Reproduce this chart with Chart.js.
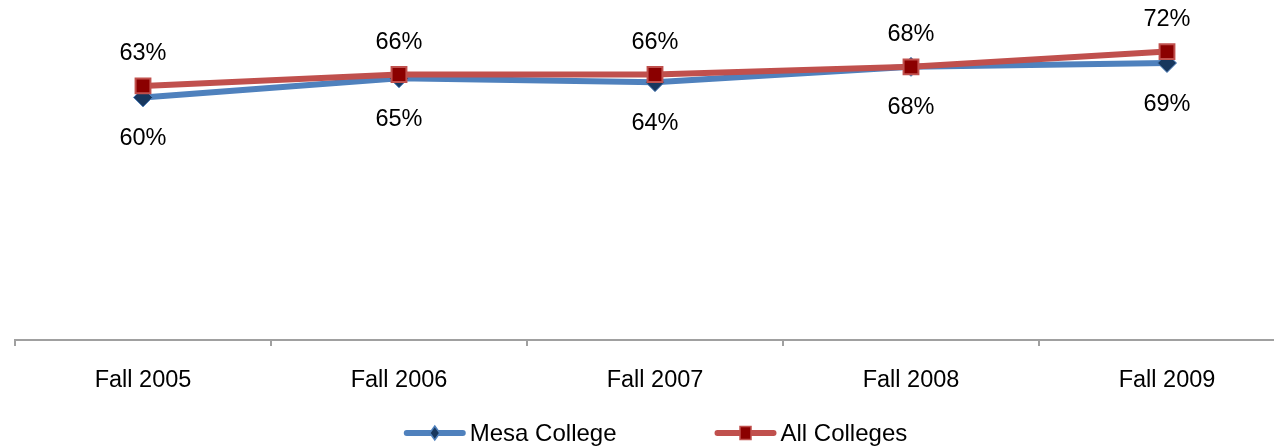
<!DOCTYPE html>
<html>
<head>
<meta charset="utf-8">
<script src="https://cdn.jsdelivr.net/npm/chart.js@4.4.0/dist/chart.umd.min.js"></script>
<style>
  html, body { margin: 0; padding: 0; background: #fff; overflow: hidden; }
  #wrap { width: 1310px; height: 446px; }
</style>
</head>
<body>
<div id="wrap"><canvas id="chart-line" width="1310" height="446"></canvas></div>
<script>
// data
var labels = ["Fall 2005", "Fall 2006", "Fall 2007", "Fall 2008", "Fall 2009"];
var mesaCollege = [60, 65, 64, 68, 69];
var allColleges = [63, 66, 66, 68, 72];
var seriesNames = ["Mesa College", "All Colleges"];

var FONT = "'Liberation Sans', Arial, sans-serif";
var FONT_SIZE = 23.5;
var LEGEND_SIZE = 24;

// value labels: All Colleges above its points, Mesa College below
var valueLabels = {
  id: "valueLabels",
  afterDatasetsDraw: function (chart) {
    var ctx = chart.ctx;
    ctx.save();
    ctx.font = FONT_SIZE + "px " + FONT;
    ctx.fillStyle = "#000";
    ctx.textAlign = "center";
    ctx.textBaseline = "middle";
    chart.data.datasets.forEach(function (ds, i) {
      var meta = chart.getDatasetMeta(i);
      var off = ds.labelOffset;
      meta.data.forEach(function (pt, j) {
        ctx.fillText(ds.data[j] + "%", pt.x, pt.y + off);
      });
    });
    ctx.restore();
  },
};

// legend like the excel one: thick line with marker in the middle
var lineLegend = {
  id: "lineLegend",
  afterDraw: function (chart) {
    var ctx = chart.ctx;
    var lineLen = 60, gapText = 5, gapItem = 99, cy = 433;
    ctx.save();
    ctx.font = LEGEND_SIZE + "px " + FONT;
    var widths = chart.data.datasets.map(function (ds) {
      return lineLen + gapText + ctx.measureText(ds.label).width;
    });
    var total = widths[0] + gapItem + widths[1];
    var x = chart.width / 2 - total / 2 + 1;
    chart.data.datasets.forEach(function (ds, i) {
      ctx.strokeStyle = ds.borderColor;
      ctx.lineWidth = 6;
      ctx.lineCap = "round";
      ctx.beginPath();
      ctx.moveTo(x + 2, cy);
      ctx.lineTo(x + lineLen - 2, cy);
      ctx.stroke();
      var mx = x + lineLen / 2;
      ctx.fillStyle = ds.pointBackgroundColor;
      ctx.strokeStyle = ds.pointBorderColor;
      ctx.lineWidth = 1.5;
      ctx.beginPath();
      if (ds.pointStyle === "rectRot") {
        ctx.moveTo(mx, cy - 7);
        ctx.lineTo(mx + 5, cy);
        ctx.lineTo(mx, cy + 7);
        ctx.lineTo(mx - 5, cy);
        ctx.closePath();
      } else {
        ctx.rect(mx - 5.5, cy - 6.5, 11, 13);
      }
      ctx.fill();
      ctx.stroke();
      ctx.fillStyle = "#000";
      ctx.textAlign = "left";
      ctx.textBaseline = "middle";
      ctx.fillText(ds.label, x + lineLen + gapText, cy + 1);
      x += widths[i] + gapItem;
    });
    ctx.restore();
  },
};

var ctx = document.getElementById("chart-line").getContext("2d");
new Chart(ctx, {
  type: "line",
  data: {
    labels: labels,
    datasets: [
      {
        label: seriesNames[0],
        data: mesaCollege,
        borderColor: "#4F81BD",
        borderWidth: 6,
        tension: 0,
        pointStyle: "rectRot",
        pointRadius: 9.5,
        pointBackgroundColor: "#17375E",
        pointBorderColor: "#4F81BD",
        pointBorderWidth: 1,
        labelOffset: 41,
        order: 1,
      },
      {
        label: seriesNames[1],
        data: allColleges,
        borderColor: "#C0504D",
        borderWidth: 6,
        tension: 0,
        pointStyle: "rect",
        pointRadius: 10.5,
        pointBackgroundColor: "#8B0000",
        pointBorderColor: "#C0504D",
        pointBorderWidth: 2,
        labelOffset: -32,
        order: 0,
      },
    ],
  },
  options: {
    responsive: false,
    animation: false,
    devicePixelRatio: 1,
    layout: { padding: { top: 21, left: 15, right: 15, bottom: 0 } },
    plugins: {
      legend: { display: false },
      tooltip: { enabled: false },
    },
    scales: {
      y: { display: false, min: -3.5, max: 80 },
      x: {
        offset: true,
        border: { display: true, color: "#A0A0A0", width: 2 },
        grid: {
          display: true,
          offset: true,
          drawOnChartArea: false,
          drawTicks: true,
          tickLength: 6,
          color: "#A0A0A0",
          lineWidth: 2,
        },
        ticks: {
          color: "#000",
          padding: 20,
          maxRotation: 0,
          autoSkip: false,
          font: { family: FONT, size: FONT_SIZE },
        },
        afterFit: function (scale) {
          scale.height = 106;
        },
      },
    },
  },
  plugins: [valueLabels, lineLegend],
});
</script>
</body>
</html>
